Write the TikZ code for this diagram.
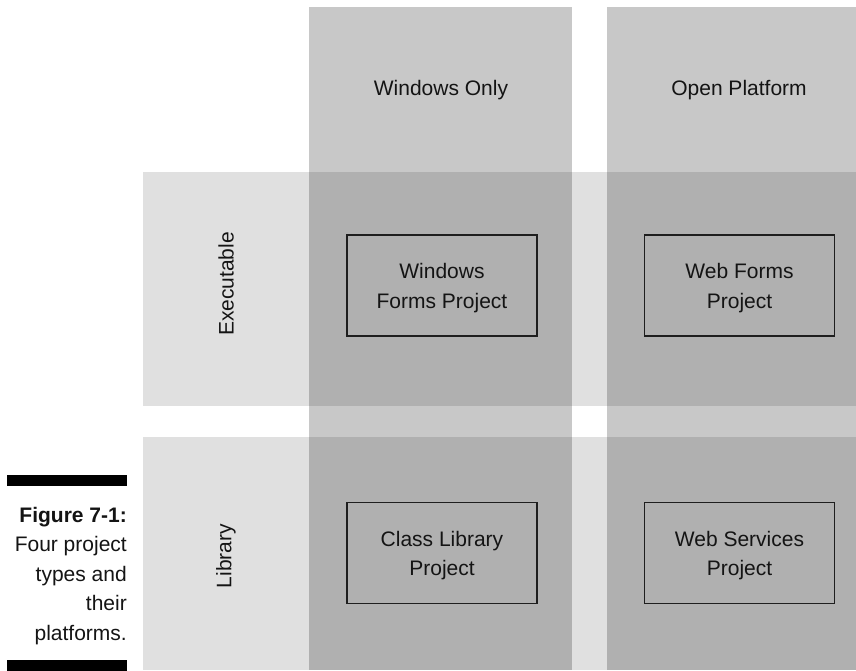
\documentclass[tikz,border=0pt]{standalone}
\usepackage{fontspec}
\setmainfont{Liberation Sans}
\definecolor{rowgray}{HTML}{E0E0E0}
\definecolor{colgray}{HTML}{C8C8C8}
\definecolor{midgray}{HTML}{B0B0B0}
\definecolor{boxline}{HTML}{1E1E1E}
\begin{document}
\begin{tikzpicture}[x=1pt,y=-1pt,
  every node/.style={font=\fontsize{21}{29.5}\selectfont, text=black!92},
  projbox/.style={draw=boxline, line width=1.4pt, minimum width=190pt, minimum height=101pt, align=center, inner sep=0pt},
  projtext/.style={align=center, inner sep=0pt},
  header/.style={align=center, inner sep=0pt},
  rowlabel/.style={rotate=90, inner sep=0pt}]
\useasboundingbox (0,0) rectangle (856,670);
\fill[white] (0,0) rectangle (856,670);
% row bands
\fill[rowgray] (143,172) rectangle (856,406);
\fill[rowgray] (143,437) rectangle (856,670);
% column bands
\fill[colgray] (309,7) rectangle (572,670);
\fill[colgray] (607,7) rectangle (856,670);
% intersections
\fill[midgray] (309,172) rectangle (572,406);
\fill[midgray] (607,172) rectangle (856,406);
\fill[midgray] (309,437) rectangle (572,670);
\fill[midgray] (607,437) rectangle (856,670);
% headers
\node[header] (win) at (441,90) {Windows Only};
\node[header] (open) at (739,90) {Open Platform};
\node[rowlabel] (exe) at (226,284) {Executable};
\node[rowlabel] (lib) at (226,556) {Library};
% project boxes
\node[projbox] (wfp) at (442,285.5) {};
\node[projbox] (webf) at (739.5,285.5) {};
\node[projbox] (clp) at (442,553) {};
\node[projbox] (wsp) at (739.5,553) {};
\node[projtext] (wfpt) at ([yshift=-2.5pt]wfp.center) {Windows\\Forms Project};
\node[projtext] (webft) at ([yshift=-2.5pt]webf.center) {Web Forms\\Project};
\node[projtext] (clpt) at ([yshift=-2.5pt]clp.center) {Class Library\\Project};
\node[projtext] (wspt) at ([yshift=-2.5pt]wsp.center) {Web Services\\Project};
% caption
\fill[black] (7,475) rectangle (127,486);
\fill[black] (7,660) rectangle (127,671);
\node[anchor=north east, align=right, inner sep=0pt] (cap) at (127,507)
  {\textbf{Figure 7-1:}\\Four project\\types and\\their\\platforms.};
\end{tikzpicture}
\end{document}
